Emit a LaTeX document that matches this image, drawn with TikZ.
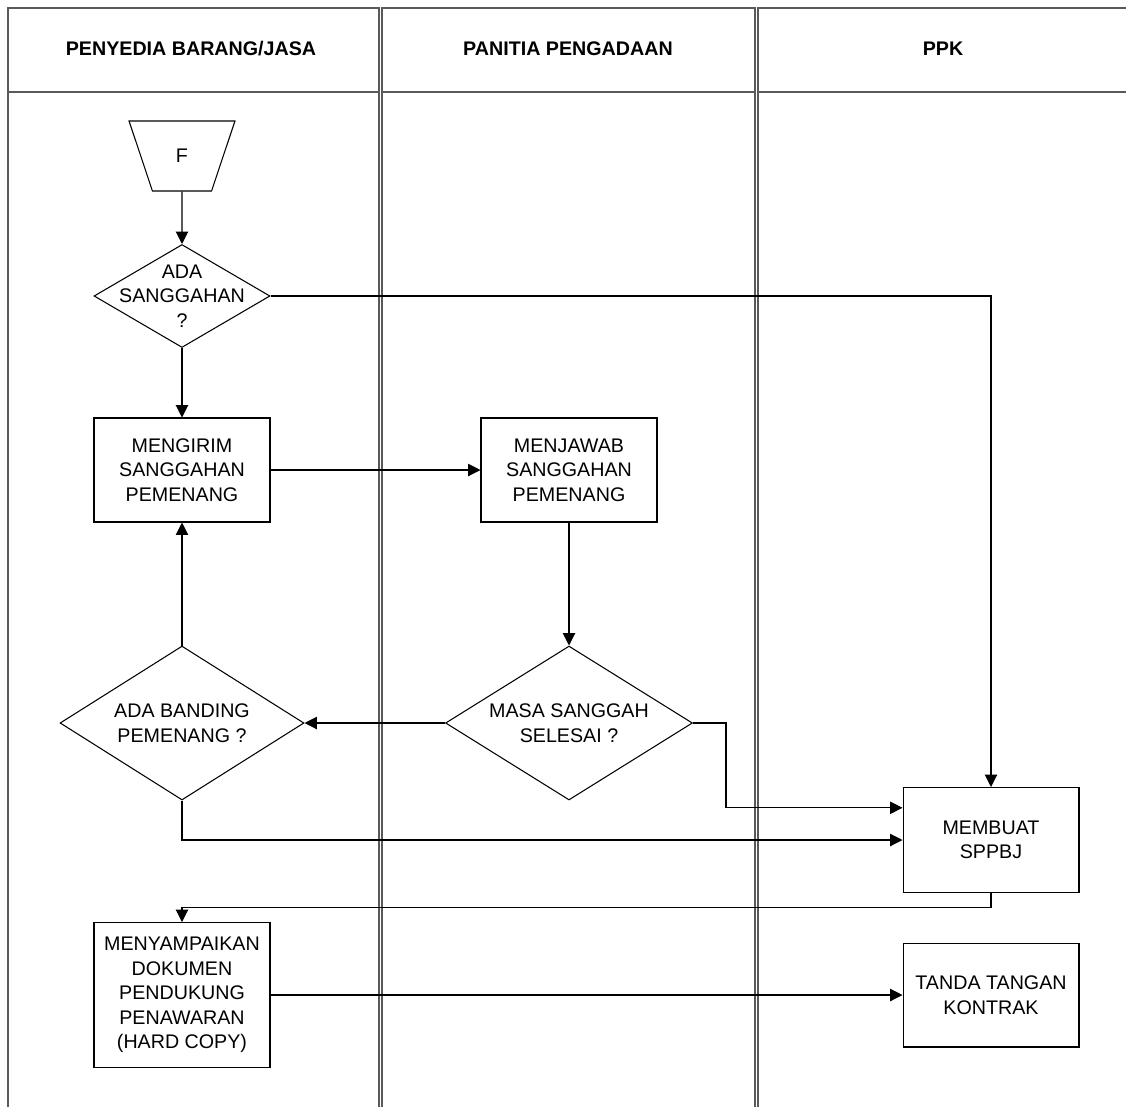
\documentclass[tikz,border=0pt]{standalone}
\usepackage{fontspec}
\setmainfont{Liberation Sans}
\usetikzlibrary{shapes.geometric,arrows.meta}

\begin{document}
\begin{tikzpicture}[x=0.02cm, y=-0.02cm,
  every node/.style={font=\fontsize{11.2}{14}\selectfont, align=center},
  lane/.style={black!65, line width=0.8pt},
  proses/.style={draw, rectangle, line width=0.6pt, inner sep=0pt, minimum width=3.52cm, minimum height=2.08cm},
  tanya/.style={draw, diamond, line width=0.6pt, inner sep=0pt},
  alir/.style={-{Triangle[length=7pt,width=7pt]}, line width=0.6pt}]
\useasboundingbox (0,0) rectangle (1126,1107);
\draw [lane] (8,1107) -- (8,8) -- (379,8) -- (379,1107);
\draw [lane] (8,92) -- (379,92);
\draw [lane] (382,1107) -- (382,8) -- (755,8) -- (755,1107);
\draw [lane] (382,92) -- (755,92);
\draw [lane] (758,1107) -- (758,8) -- (1126,8);
\draw [lane] (758,92) -- (1126,92);
\node (hpenyedia) at (191,49) {\bfseries PENYEDIA BARANG/JASA};
\node (hpanitia) at (568,49) {\bfseries PANITIA PENGADAAN};
\node (hppk) at (943,49) {\bfseries PPK};
\node [draw, trapezium, shape border rotate=180, trapezium angle=69.6, trapezium stretches=true, line width=0.6pt, minimum width=2.12cm, minimum height=1.4cm] (f) at (182,156) {F};
\node [tanya, minimum width=3.52cm, minimum height=2.06cm, label=center:{ADA\\SANGGAHAN\\?}] (sanggah) at (182,296) {};
\node [proses] (kirim) at (182,470) {MENGIRIM\\SANGGAHAN\\PEMENANG};
\node [proses] (jawab) at (569,470) {MENJAWAB\\SANGGAHAN\\PEMENANG};
\node [tanya, minimum width=4.88cm, minimum height=3.08cm, label=center:{ADA BANDING\\PEMENANG ?}] (banding) at (182,723) {};
\node [tanya, minimum width=4.94cm, minimum height=3.08cm, label=center:{MASA SANGGAH\\SELESAI ?}] (masa) at (569,723) {};
\node [proses, minimum height=2.1cm] (sppbj) at (991,840) {MEMBUAT\\SPPBJ};
\node [proses, minimum height=2.9cm] (dokumen) at (182,995) {MENYAMPAIKAN\\DOKUMEN\\PENDUKUNG\\PENAWARAN\\(HARD COPY)};
\node [proses] (kontrak) at (991,995) {TANDA TANGAN\\KONTRAK};
\draw [alir] (f) -- (sanggah);
\draw [alir] (sanggah.east) -| (sppbj.north);
\draw [alir] (sanggah) -- (kirim);
\draw [alir] (kirim) -- (jawab);
\draw [alir] (jawab) -- (masa);
\draw [alir] (masa) -- (banding);
\draw [alir] (banding) -- (kirim);
\draw [alir] (masa.east) -- ++(33,0) |- (sppbj.160);
\draw [alir] (banding.south) |- (sppbj.west);
\draw [alir] (sppbj.south) -- ++(0,14) -| (dokumen.north);
\draw [alir] (dokumen) -- (kontrak);
\end{tikzpicture}
\end{document}
